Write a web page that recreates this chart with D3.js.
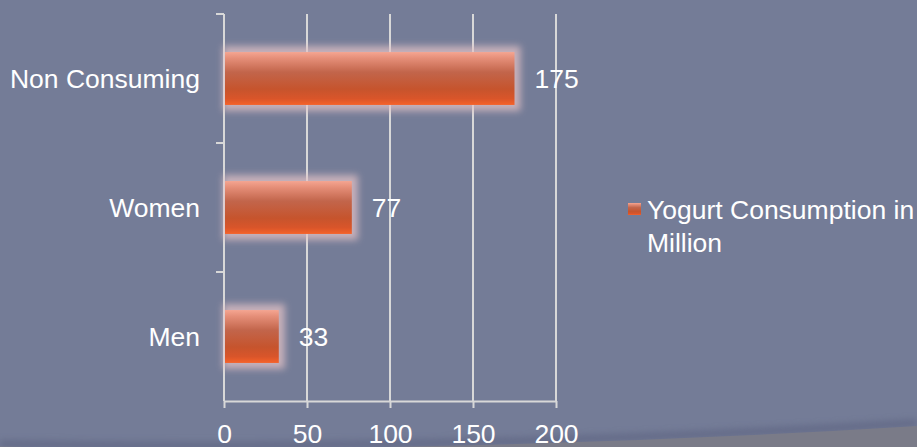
<!DOCTYPE html>
<html>
<head>
<meta charset="utf-8">
<script src="https://cdn.jsdelivr.net/npm/d3@7"></script>
<style>
  html, body { margin: 0; padding: 0; background: #747c97; }
  svg { display: block; }
  text { font-family: "Liberation Sans", Arial, sans-serif; fill: #ffffff; }
</style>
</head>
<body>
<svg id="chart" width="917" height="447"></svg>
<script>
// Yogurt consumption (millions) by group
const categories = ["Non Consuming", "Women", "Men"];
const values = [175, 77, 33];
const xTicks = [0, 50, 100, 150, 200];
const seriesName = ["Yogurt Consumption in", "Million"];

const W = 917, H = 447;
const FS = 26.5;
const svg = d3.select("#chart");
const defs = svg.append("defs");

// bar fill: salmon top fading to burnt orange
const grad = defs.append("linearGradient")
  .attr("id", "barFill").attr("x1", 0).attr("y1", 0).attr("x2", 0).attr("y2", 1);
[[0, "#f5a591"], [0.12, "#e58e78"], [0.38, "#c2654b"], [0.7, "#c6542d"], [0.88, "#d9552a"], [1, "#f5622a"]]
  .forEach(([o, c]) => grad.append("stop").attr("offset", o).attr("stop-color", c));

// soft halo around bars
const glow = defs.append("filter").attr("id", "glow")
  .attr("x", "-30%").attr("y", "-40%").attr("width", "160%").attr("height", "180%");
glow.append("feGaussianBlur").attr("stdDeviation", 3.5);

const shadow = defs.append("filter").attr("id", "shadow")
  .attr("x", "-10%").attr("y", "-200%").attr("width", "120%").attr("height", "500%");
shadow.append("feGaussianBlur").attr("stdDeviation", 3);

// background
svg.append("rect").attr("width", W).attr("height", H).attr("fill", "#747c97");

// bottom swoosh of the slide
svg.append("path")
  .attr("d", `M0,444 Q450,452 917,423`)
  .attr("fill", "none").attr("stroke", "#5c6280").attr("stroke-width", 8)
  .attr("opacity", 0.6).attr("filter", "url(#shadow)");
svg.append("path")
  .attr("d", `M0,446.5 Q450,455 917,426 L917,447 L0,447 Z`)
  .attr("fill", "#7a7b88");

const x = d3.scaleLinear().domain([0, 200]).range([224, 556]);
const y = d3.scaleBand().domain(categories).range([14, 401]).paddingInner(0.59).paddingOuter(0.295);

const plotTop = 14, plotBottom = 401;
const lineColor = "#d8d8d8";

// vertical gridlines
svg.append("g").selectAll("line").data(xTicks.filter(t => t > 0)).join("line")
  .attr("x1", d => x(d)).attr("x2", d => x(d))
  .attr("y1", plotTop).attr("y2", plotBottom)
  .attr("stroke", lineColor).attr("stroke-width", 2);

// x axis
const xAxis = svg.append("g").attr("transform", `translate(0,${plotBottom})`)
  .call(d3.axisBottom(x).tickValues(xTicks).tickSize(7).tickSizeOuter(0).tickPadding(16));
xAxis.select(".domain").attr("stroke", lineColor).attr("stroke-width", 2);
xAxis.selectAll(".tick line").attr("stroke", lineColor).attr("stroke-width", 2);
xAxis.selectAll(".tick text").attr("font-size", FS).attr("fill", "#fff")
  .attr("font-family", '"Liberation Sans", Arial, sans-serif');

// y axis: ticks sit on the band boundaries
const step = y.step();
const bounds = [plotTop, plotTop + step, plotTop + 2 * step, plotBottom];
svg.append("line").attr("x1", x(0)).attr("x2", x(0)).attr("y1", plotTop).attr("y2", plotBottom)
  .attr("stroke", lineColor).attr("stroke-width", 2);
svg.append("g").selectAll("line").data(bounds.slice(0, 3)).join("line")
  .attr("x1", x(0) - 8).attr("x2", x(0)).attr("y1", d => d).attr("y2", d => d)
  .attr("stroke", lineColor).attr("stroke-width", 2);

svg.append("g").selectAll("text").data(categories).join("text")
  .attr("x", 200).attr("y", d => y(d) + y.bandwidth() / 2 + 9.5)
  .attr("text-anchor", "end").attr("font-size", FS)
  .text(d => d);

// bars with halo
const rows = categories.map((c, i) => ({ c, v: values[i] }));
svg.append("g").selectAll("rect").data(rows).join("rect")
  .attr("x", x(0) - 1).attr("y", d => y(d.c) - 6)
  .attr("width", d => x(d.v) - x(0) + 7).attr("height", y.bandwidth() + 12)
  .attr("fill", "#e3c2c6").attr("opacity", 0.75).attr("filter", "url(#glow)");
svg.append("g").selectAll("rect").data(rows).join("rect")
  .attr("x", x(0) + 1).attr("y", d => y(d.c))
  .attr("width", d => x(d.v) - x(0) - 1).attr("height", y.bandwidth())
  .attr("fill", "url(#barFill)");

// value labels
svg.append("g").selectAll("text").data(rows).join("text")
  .attr("x", d => x(d.v) + 20).attr("y", d => y(d.c) + y.bandwidth() / 2 + 9.5)
  .attr("font-size", FS)
  .text(d => d.v);

// legend
const lg = svg.append("g");
lg.append("rect").attr("x", 628).attr("y", 203).attr("width", 13).attr("height", 12)
  .attr("fill", "url(#barFill)");
lg.append("text").attr("x", 647).attr("y", 219).attr("font-size", FS).text(seriesName[0]);
lg.append("text").attr("x", 647).attr("y", 252).attr("font-size", FS).text(seriesName[1]);
</script>
</body>
</html>
